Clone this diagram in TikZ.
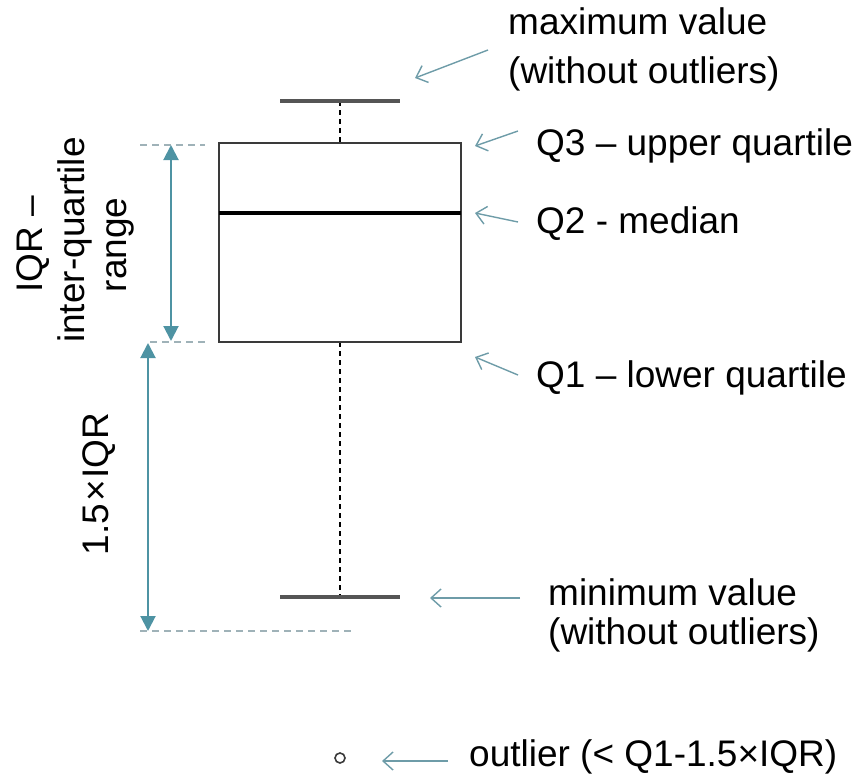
\documentclass[tikz,border=0pt]{standalone}
\usepackage{fontspec}
\setmainfont{Liberation Sans}
\usetikzlibrary{arrows.meta}
\definecolor{tealA}{HTML}{4E93A3}
\definecolor{tealB}{HTML}{6E9CA8}
\definecolor{refgray}{HTML}{9FB2B8}
\definecolor{boxgray}{HTML}{3A3A3A}
\definecolor{capgray}{HTML}{555555}
\tikzset{
  lbl/.style={font=\fontsize{37}{42}\selectfont, inner sep=0pt, text=black},
  rlbl/.style={lbl, anchor=base west},
  vlbl/.style={lbl, rotate=90, anchor=base},
  pointer/.style={draw=tealB, line width=1.4pt, -{Straight Barb[length=10pt,width=18pt,line width=1.4pt]}},
  span/.style={draw=tealA, line width=2pt, {Triangle[length=15pt,width=15pt]}-{Triangle[length=15pt,width=15pt]}},
  refline/.style={draw=refgray, line width=1.5pt, dash pattern=on 7pt off 5pt},
  whisker/.style={draw=black, line width=1.6pt, dash pattern=on 5pt off 4pt},
  capline/.style={draw=capgray, line width=3.2pt},
}
\begin{document}
\begin{tikzpicture}[x=1pt,y=1pt]
\useasboundingbox (0,0) rectangle (854,-776);
% box and whiskers
\coordinate (capTopL) at (280,-101);
\coordinate (capTopR) at (400,-101);
\coordinate (capTopM) at (340,-101);
\coordinate (capBotL) at (280,-597);
\coordinate (capBotR) at (400,-597);
\coordinate (capBotM) at (340,-597);
\coordinate (boxTL) at (219,-143);
\coordinate (boxBR) at (461,-342);
\coordinate (boxTM) at (340,-143);
\coordinate (boxBM) at (340,-342);
\coordinate (medL) at (219,-213);
\coordinate (medR) at (461,-213);
\draw[whisker] (capTopM) -- (boxTM);
\draw[whisker] (boxBM) -- (capBotM);
\draw[capline] (capTopL) -- (capTopR);
\draw[capline] (capBotL) -- (capBotR);
\draw[draw=boxgray, line width=2.6pt, fill=white] (boxTL) rectangle (boxBR);
\draw[black, line width=3.2pt] (medL) -- (medR);
\node[draw=boxgray, circle, line width=1.6pt, minimum size=10pt, inner sep=0pt] (outl) at (340,-758) {};
% reference dashed lines
\coordinate (rq3a) at (140,-145); \coordinate (rq3b) at (205,-145);
\coordinate (rq1a) at (150,-342); \coordinate (rq1b) at (205,-342);
\coordinate (rlwa) at (140,-631); \coordinate (rlwb) at (352,-631);
\draw[refline] (rq3a) -- (rq3b);
\draw[refline] (rq1a) -- (rq1b);
\draw[refline] (rlwa) -- (rlwb);
% span arrows
\coordinate (iqrT) at (171,-145); \coordinate (iqrB) at (171,-341);
\coordinate (lowT) at (148,-343); \coordinate (lowB) at (148,-631);
\draw[span] (iqrT) -- (iqrB);
\draw[span] (lowT) -- (lowB);
% left labels
\node[vlbl] (iqr1) at (42,-244) {IQR –};
\node[vlbl] (iqr2) at (84,-240) {inter-quartile};
\node[vlbl] (iqr3) at (126,-245) {range};
\node[vlbl] (low1) at (108,-484) {1.5\kern2pt×\kern2pt IQR};
% right labels
\node[rlbl] (max1) at (508,-35) {maximum value};
\node[rlbl] (max2) at (508,-84) {(without outliers)};
\node[rlbl] (q3) at (536,-155) {Q3 – upper quartile};
\node[rlbl] (q2) at (536,-233) {Q2 - median};
\node[rlbl] (q1) at (536,-387) {Q1 – lower quartile};
\node[rlbl] (min1) at (548,-605) {minimum value};
\node[rlbl] (min2) at (548,-644) {(without outliers)};
\node[rlbl] (outt) at (469,-766) {outlier (< Q1-1.5×IQR)};
% pointers
\coordinate (pmaxA) at (488,-50); \coordinate (pmaxB) at (415,-78);
\coordinate (pq3A) at (518,-131); \coordinate (pq3B) at (475,-146);
\coordinate (pq2A) at (518,-222); \coordinate (pq2B) at (475,-213);
\coordinate (pq1A) at (518,-375); \coordinate (pq1B) at (475,-357);
\coordinate (pminA) at (520,-598); \coordinate (pminB) at (430,-598);
\coordinate (poutA) at (448,-761); \coordinate (poutB) at (382,-761);
\draw[pointer] (pmaxA) -- (pmaxB);
\draw[pointer] (pq3A) -- (pq3B);
\draw[pointer] (pq2A) -- (pq2B);
\draw[pointer] (pq1A) -- (pq1B);
\draw[pointer] (pminA) -- (pminB);
\draw[pointer] (poutA) -- (poutB);
\end{tikzpicture}
\end{document}
